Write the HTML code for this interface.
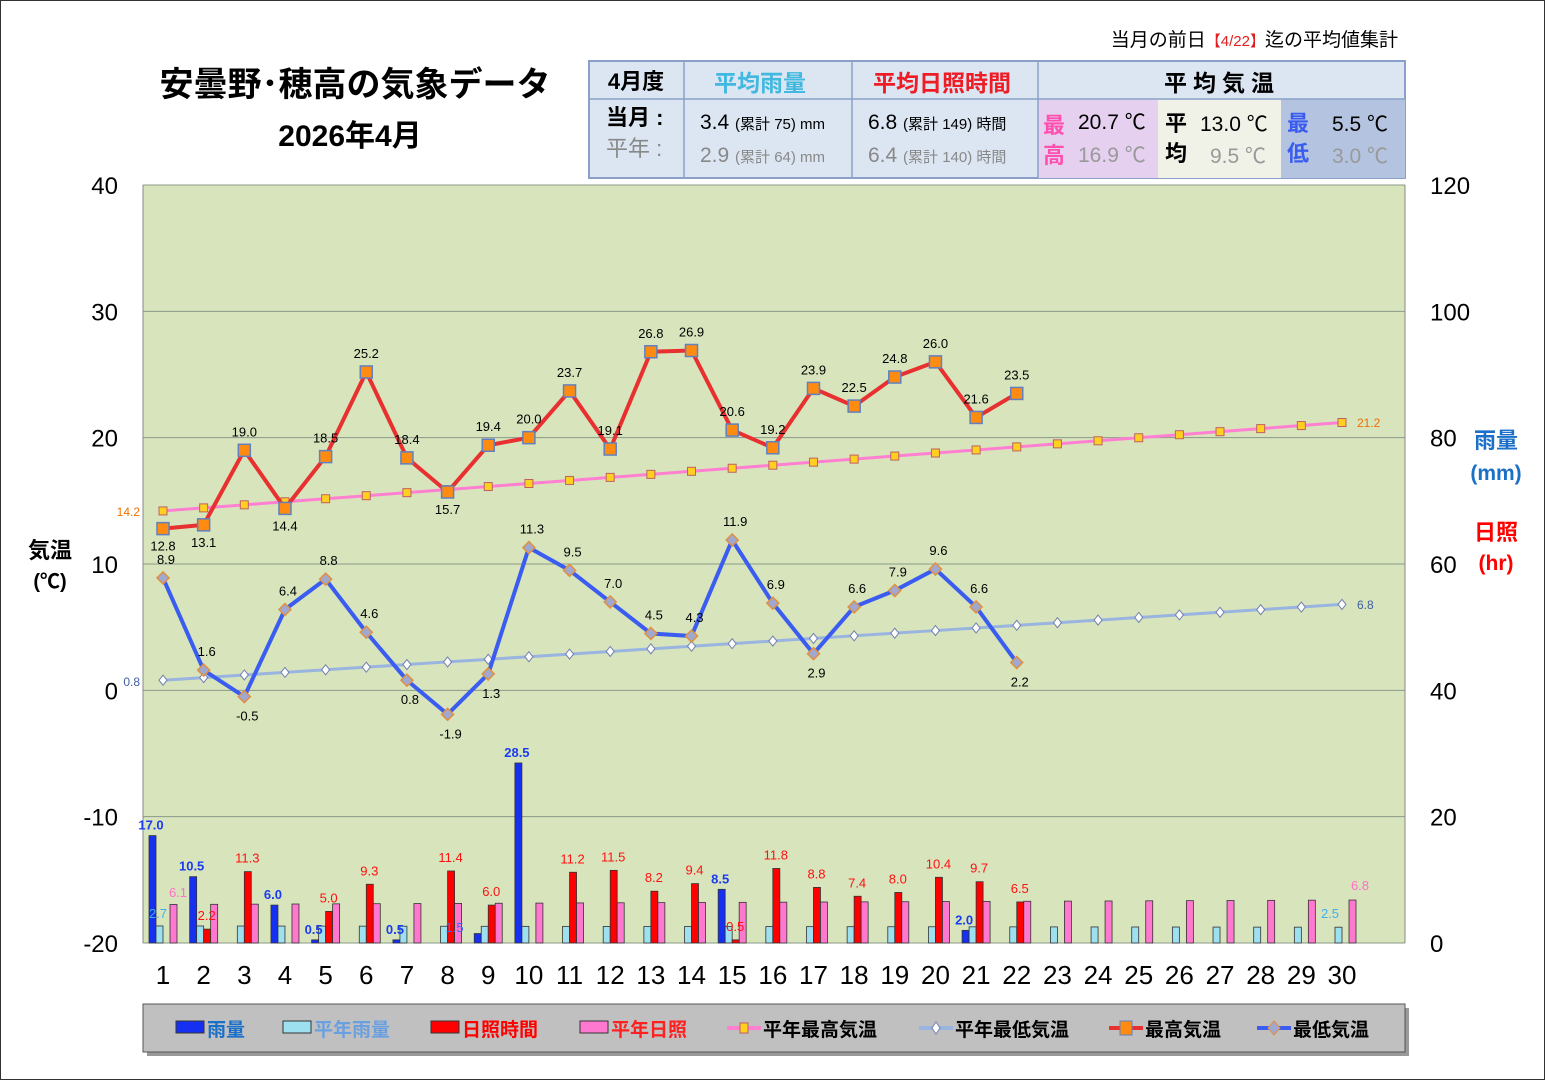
<!DOCTYPE html>
<html><head><meta charset="utf-8"><style>
html,body{margin:0;padding:0;background:#fff}
body{width:1545px;height:1080px;overflow:hidden;font-family:"Liberation Sans","Noto Sans CJK JP",sans-serif}
</style></head><body>
<svg id="s" width="1545" height="1080" xmlns="http://www.w3.org/2000/svg" font-family="'Liberation Sans','Noto Sans CJK JP',sans-serif"></svg>
<script>
const S=document.getElementById('s');let h='';
const X0=163,DX=(1342-163)/29;
const xd=d=>X0+(d-1)*DX;
const yT=t=>185+(40-t)*758/60;
const yR=v=>943-v*758/120;
h+=`<rect x="0.5" y="0.5" width="1544" height="1079" fill="#fff" stroke="#333"/>`;
h+=`<rect x="143" y="185" width="1262" height="758" fill="#d8e4bc"/>`;
for(let t=-20;t<=40;t+=10){const y=yT(t);h+=`<line x1="143" x2="1405" y1="${y}" y2="${y}" stroke="#8a9a8a" stroke-width="1"/>`;
h+=`<text x="118" y="${y+9}" font-size="24" text-anchor="end">${t}</text>`;
h+=`<text x="1430" y="${y+9}" font-size="24">${(t+20)*2}</text>`;}
h+=`<line x1="143" x2="143" y1="185" y2="943" stroke="#888"/><line x1="1405" x2="1405" y1="185" y2="943" stroke="#888"/>`;
for(let d=1;d<=30;d++)h+=`<text x="${xd(d)}" y="984" font-size="26" text-anchor="middle">${d}</text>`;
// bars
const rain={1:17,2:10.5,4:6,5:0.5,7:0.5,9:1.5,10:28.5,15:8.5,21:2};
const sun={2:2.2,3:11.3,5:5,6:9.3,8:11.4,9:6,11:11.2,12:11.5,13:8.2,14:9.4,15:0.5,16:11.8,17:8.8,18:7.4,19:8,20:10.4,21:9.7,22:6.5};
function bar(x,v,c){const y=yR(v);return `<rect x="${x}" y="${y}" width="7" height="${943-y}" fill="${c}" stroke="#333" stroke-width="0.8"/>`}
for(let d=1;d<=30;d++){const x=xd(d);
const nr=2.7-0.2*(d-1)/29, ns=6.1+0.7*(d-1)/29;
if(rain[d])h+=bar(x-14,rain[d],'#1530f0');
h+=bar(x-7,nr,'#9de0f0');
if(sun[d])h+=bar(x,sun[d],'#ff0000');
h+=bar(x+7,ns,'#ff78d0');}
const rl={1:[17,'-10'],2:[10.5,'-10'],4:[6,'-10'],5:[0.5,'-14'],7:[0.5,'-14'],10:[28.5,'-10'],15:[8.5,'-12'],21:[2,'-8']};
for(const d in rl){const [v]=rl[d];h+=`<text x="${xd(+d)-12}" y="${yR(v)-6}" font-size="13" fill="#1a3cf0" text-anchor="middle" font-weight="bold">${v.toFixed(1)}</text>`}
h+=`<text x="${xd(8)+7}" y="932" font-size="13" fill="#3a6cf0" text-anchor="middle">1.5</text>`;
for(const d in sun){const v=sun[d];h+=`<text x="${xd(+d)+3}" y="${yR(v)-9}" font-size="13" fill="#ff1010" text-anchor="middle">${v.toFixed(1)}</text>`}
h+=`<text x="${xd(1)-5}" y="918" font-size="13" fill="#40b0f0" text-anchor="middle">2.7</text>`;
h+=`<text x="${xd(1)+15}" y="897" font-size="13" fill="#ff70c8" text-anchor="middle">6.1</text>`;
h+=`<text x="${xd(30)-12}" y="918" font-size="13" fill="#40b0f0" text-anchor="middle">2.5</text>`;
h+=`<text x="${xd(30)+18}" y="890" font-size="13" fill="#ff70c8" text-anchor="middle">6.8</text>`;
// normal lines
let p1='',p2='';
for(let d=1;d<=30;d++){const nmax=14.2+7*(d-1)/29,nmin=0.8+6*(d-1)/29;p1+=`${xd(d)},${yT(nmax)} `;p2+=`${xd(d)},${yT(nmin)} `;}
h+=`<polyline points="${p2}" fill="none" stroke="#9ab4e0" stroke-width="3"/>`;
h+=`<polyline points="${p1}" fill="none" stroke="#ff80d0" stroke-width="3"/>`;
for(let d=1;d<=30;d++){const nmax=14.2+7*(d-1)/29,nmin=0.8+6*(d-1)/29;const x=xd(d);
let y=yT(nmin);h+=`<polygon points="${x},${y-5} ${x+4},${y} ${x},${y+5} ${x-4},${y}" fill="#fff" stroke="#7080b0" stroke-width="1"/>`;
y=yT(nmax);h+=`<rect x="${x-4}" y="${y-4}" width="8" height="8" fill="#ffd020" stroke="#c06060" stroke-width="1"/>`;}
h+=`<text x="140" y="516" font-size="12" fill="#f07000" text-anchor="end">14.2</text>`;
h+=`<text x="1357" y="427" font-size="12" fill="#f07000">21.2</text>`;
h+=`<text x="140" y="686" font-size="12" fill="#4060a0" text-anchor="end">0.8</text>`;
h+=`<text x="1357" y="609" font-size="12" fill="#4060a0">6.8</text>`;
const mx=[12.8,13.1,19.0,14.4,18.5,25.2,18.4,15.7,19.4,20.0,23.7,19.1,26.8,26.9,20.6,19.2,23.9,22.5,24.8,26.0,21.6,23.5];
const mn=[8.9,1.6,-0.5,6.4,8.8,4.6,0.8,-1.9,1.3,11.3,9.5,7.0,4.5,4.3,11.9,6.9,2.9,6.6,7.9,9.6,6.6,2.2];
const mxBelow=[1,2,4,8],mnBelow=[3,7,8,9,17,22];
h+=`<polyline points="${mn.map((v,i)=>xd(i+1)+','+yT(v)).join(' ')}" fill="none" stroke="#3a5cf0" stroke-width="4"/>`;
h+=`<polyline points="${mx.map((v,i)=>xd(i+1)+','+yT(v)).join(' ')}" fill="none" stroke="#e83030" stroke-width="4"/>`;
mn.forEach((v,i)=>{const x=xd(i+1),y=yT(v);h+=`<polygon points="${x},${y-6} ${x+6},${y} ${x},${y+6} ${x-6},${y}" fill="#a0a8d0" stroke="#e09040" stroke-width="1.5"/>`;
const b=mnBelow.includes(i+1);h+=`<text x="${x+3}" y="${b?y+24:y-14}" font-size="13" text-anchor="middle">${v.toFixed(1)}</text>`;});
mx.forEach((v,i)=>{const x=xd(i+1),y=yT(v);h+=`<rect x="${x-6}" y="${y-6}" width="12" height="12" fill="#ff8c10" stroke="#6080c0" stroke-width="1.5"/>`;
const b=mxBelow.includes(i+1);h+=`<text x="${x}" y="${b?y+22:y-14}" font-size="13" text-anchor="middle">${v.toFixed(1)}</text>`;});
// axis titles
h+=`<text x="50" y="558" font-size="22" font-weight="bold" text-anchor="middle">気温</text><text x="50" y="588" font-size="20" font-weight="bold" text-anchor="middle">(℃)</text>`;
h+=`<text x="1496" y="448" font-size="22" font-weight="bold" fill="#1a70c8" text-anchor="middle">雨量</text><text x="1496" y="480" font-size="21" font-weight="bold" fill="#1a70c8" text-anchor="middle">(mm)</text>`;
h+=`<text x="1496" y="540" font-size="22" font-weight="bold" fill="#ff0000" text-anchor="middle">日照</text><text x="1496" y="570" font-size="21" font-weight="bold" fill="#ff0000" text-anchor="middle">(hr)</text>`;
// title
h+=`<text x="355" y="96" font-size="34" font-weight="bold" text-anchor="middle">安曇野･穂高の気象データ</text>`;
h+=`<text x="350" y="146" font-size="30" font-weight="bold" text-anchor="middle">2026年4月</text>`;
h+=`<text x="1398" y="46" font-size="19" text-anchor="end">当月の前日<tspan fill="#e02020" font-size="15">【4/22】</tspan>迄の平均値集計</text>`;
// table
h+=`<rect x="589" y="61" width="816" height="117" fill="#dce6f2" stroke="#8aa0c8" stroke-width="2"/>`;
h+=`<rect x="1038" y="99" width="120" height="79" fill="#e6d0f0"/><rect x="1158" y="99" width="123" height="79" fill="#f0f2e8"/><rect x="1281" y="99" width="124" height="79" fill="#b4c4e0"/>`;
h+=`<line x1="589" x2="1405" y1="99" y2="99" stroke="#8aa0c8" stroke-width="1.5"/>`;
[684,852,1038].forEach(x=>h+=`<line x1="${x}" x2="${x}" y1="61" y2="178" stroke="#8aa0c8" stroke-width="1.5"/>`);
h+=`<text x="636" y="89" font-size="22" font-weight="bold" text-anchor="middle">4月度</text>`;
h+=`<text x="760" y="91" font-size="23" font-weight="bold" fill="#40b8e0" text-anchor="middle">平均雨量</text>`;
h+=`<text x="942" y="91" font-size="23" font-weight="bold" fill="#ee1c24" text-anchor="middle">平均日照時間</text>`;
h+=`<text x="1222" y="91" font-size="23" font-weight="bold" text-anchor="middle" letter-spacing="6">平均気温</text>`;
h+=`<text x="606" y="125" font-size="22" font-weight="bold">当月 :</text><text x="606" y="156" font-size="22" fill="#888">平年 :</text>`;
h+=`<text x="700" y="129" font-size="21">3.4 <tspan font-size="15">(累計 75) mm</tspan></text><text x="700" y="162" font-size="21" fill="#888">2.9 <tspan font-size="15">(累計 64) mm</tspan></text>`;
h+=`<text x="868" y="129" font-size="21">6.8 <tspan font-size="15">(累計 149) 時間</tspan></text><text x="868" y="162" font-size="21" fill="#888">6.4 <tspan font-size="15">(累計 140) 時間</tspan></text>`;
h+=`<text x="1043" y="133" font-size="22" font-weight="bold" fill="#ff50b0">最</text><text x="1043" y="163" font-size="22" font-weight="bold" fill="#ff50b0">高</text>`;
h+=`<text x="1078" y="129" font-size="21">20.7 ℃</text><text x="1078" y="162" font-size="21" fill="#999">16.9 ℃</text>`;
h+=`<text x="1165" y="131" font-size="22" font-weight="bold">平</text><text x="1165" y="161" font-size="22" font-weight="bold">均</text>`;
h+=`<text x="1200" y="131" font-size="21">13.0 ℃</text><text x="1210" y="163" font-size="21" fill="#999">9.5 ℃</text>`;
h+=`<text x="1287" y="131" font-size="22" font-weight="bold" fill="#3a5cf0">最</text><text x="1287" y="161" font-size="22" font-weight="bold" fill="#3a5cf0">低</text>`;
h+=`<text x="1332" y="131" font-size="21">5.5 ℃</text><text x="1332" y="163" font-size="21" fill="#999">3.0 ℃</text>`;
// legend
h+=`<rect x="147" y="1008" width="1262" height="48" fill="#999"/>`;
h+=`<rect x="143" y="1004" width="1262" height="48" fill="#c0c0c0" stroke="#555"/>`;
const L=[[176,'rect','#1530f0','雨量','#1a70c8'],[283,'rect','#9de0f0','平年雨量','#6aa0e0'],[431,'rect','#ff0000','日照時間','#ff0000'],[580,'rect','#ff78d0','平年日照','#ff2020'],[727,'mk1','','平年最高気温','#000'],[919,'mk2','','平年最低気温','#000'],[1109,'mk3','','最高気温','#000'],[1257,'mk4','','最低気温','#000']];
L.forEach(([x,t,c,lab,tc])=>{const y=1028;
if(t=='rect'){h+=`<rect x="${x}" y="${y-7}" width="28" height="12" fill="${c}" stroke="#333"/>`;h+=`<text x="${x+31}" y="${y+8}" font-size="19" font-weight="bold" fill="${tc}">${lab}</text>`;}
else{const lc={mk1:'#ff80d0',mk2:'#9ab4e0',mk3:'#e83030',mk4:'#3a5cf0'}[t];h+=`<line x1="${x}" x2="${x+34}" y1="${y}" y2="${y}" stroke="${lc}" stroke-width="4"/>`;
if(t=='mk1')h+=`<rect x="${x+13}" y="${y-5}" width="8" height="10" fill="#ffd020" stroke="#c06060"/>`;
if(t=='mk2')h+=`<polygon points="${x+17},${y-6} ${x+21},${y} ${x+17},${y+6} ${x+13},${y}" fill="#fff" stroke="#7080b0"/>`;
if(t=='mk3')h+=`<rect x="${x+11}" y="${y-7}" width="12" height="14" fill="#ff8c10" stroke="#6080c0"/>`;
if(t=='mk4')h+=`<polygon points="${x+17},${y-7} ${x+23},${y} ${x+17},${y+7} ${x+11},${y}" fill="#a0a8d0" stroke="#e09040"/>`;
h+=`<text x="${x+36}" y="${y+8}" font-size="19" font-weight="bold" fill="${tc}">${lab}</text>`;}});
S.innerHTML=h;
</script>
</body></html>
